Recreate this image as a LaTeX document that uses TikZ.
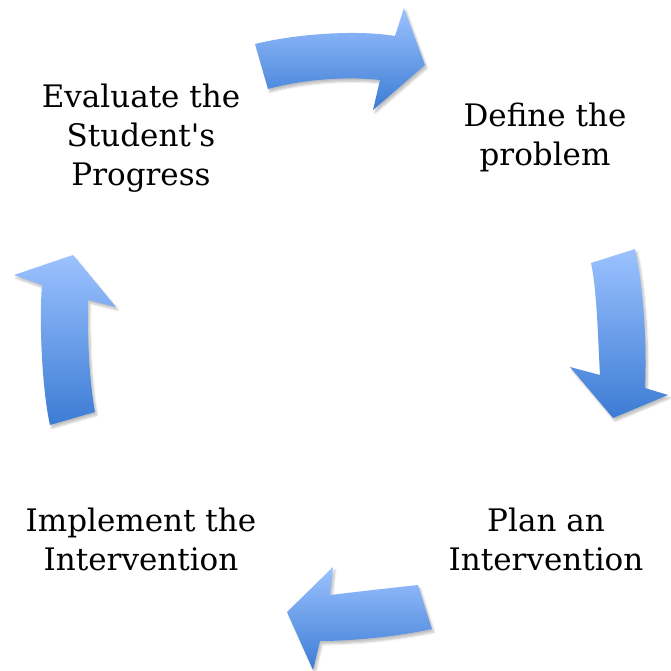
\documentclass[tikz,border=0pt]{standalone}
\usepackage{fontspec}
\setmainfont{DejaVu Serif}[Ligatures=TeXOff]
\usetikzlibrary{shadows.blur}
\definecolor{arrtop}{HTML}{9CC2FF}
\definecolor{arrbot}{HTML}{3C7CD4}
\tikzset{
  cyclearrow/.style={top color=arrtop, bottom color=arrbot, draw=none,
    blur shadow={shadow xshift=2pt, shadow yshift=-3pt, shadow blur steps=6, shadow opacity=25}},
  steplabel/.style={align=center, inner sep=0pt, font=\fontsize{31}{39}\selectfont, text=black}
}
\begin{document}
\begin{tikzpicture}[x=1pt,y=-1pt]
\useasboundingbox (0,0) rectangle (670,671);
% top arrow
\path[cyclearrow] (255,44) .. controls (300,33) and (360,30) .. (395,36) -- (404,8) -- (425,65) -- (373,110) -- (380,80) .. controls (345,76) and (300,80) .. (268,89) -- cycle;
% right arrow
\path[cyclearrow] (591,263) -- (635,249) .. controls (643,285) and (647,340) .. (645,388) -- (668,395) -- (613,418) -- (570,367) -- (600,375) .. controls (598,340) and (597,290) .. (591,263) -- cycle;
% bottom arrow
\path[cyclearrow] (418,585) -- (432,629) .. controls (395,637) and (350,641) .. (320,641) -- (313,670) -- (287,612) -- (333,567) -- (330,595) .. controls (355,592) and (390,588) .. (418,585) -- cycle;
% left arrow
\path[cyclearrow] (50,425) -- (95,412) .. controls (89,380) and (87,330) .. (88,300) -- (116,307) -- (73,255) -- (14,275) -- (42,285) .. controls (39,320) and (42,390) .. (50,425) -- cycle;
% labels
\node[steplabel] (eval) at (141,138) {Evaluate the\\Student's\\Progress};
\node[steplabel] (define) at (545,137.5) {Define the\\problem};
\node[steplabel] (plan) at (546,539) {Plan an\\Intervention};
\node[steplabel] (impl) at (141,539) {Implement the\\Intervention};
\end{tikzpicture}
\end{document}
